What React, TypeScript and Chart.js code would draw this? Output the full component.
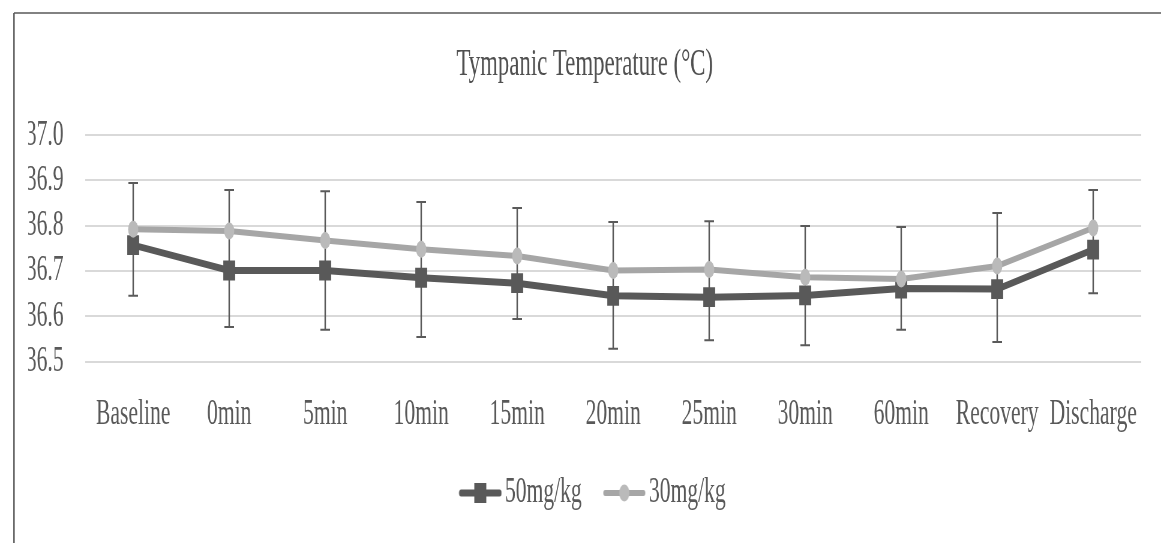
import { useEffect, useRef } from 'react';
import { Chart, registerables } from 'chart.js';

Chart.register(...registerables);

const categories = ['Baseline', '0min', '5min', '10min', '15min', '20min', '25min', '30min', '60min', 'Recovery', 'Discharge'];
const dose50 = [36.757, 36.701, 36.701, 36.685, 36.673, 36.645, 36.642, 36.646, 36.661, 36.66, 36.747];
const dose30 = [36.792, 36.788, 36.767, 36.748, 36.733, 36.701, 36.703, 36.686, 36.682, 36.711, 36.795];
const errHigh = [36.894, 36.879, 36.876, 36.852, 36.839, 36.808, 36.81, 36.799, 36.797, 36.828, 36.879];
const errLow = [36.645, 36.576, 36.57, 36.554, 36.594, 36.528, 36.547, 36.536, 36.57, 36.543, 36.651];
const yTickValues = [36.5, 36.6, 36.7, 36.8, 36.9, 37.0];
const seriesLabels = ['50mg/kg', '30mg/kg'];
const titleText = 'Tympanic Temperature (°C)';

const SX = 0.6;
const CW = Math.round(1161 / SX);
const CH = 543;
const FONT = '"Liberation Serif", "Times New Roman", serif';
const TEXT = '#595959';
const DARK = '#595959';
const LIGHT_LINE = '#a6a6a6';
const LIGHT_PT = '#bababa';

function makeLegendImg(dark: boolean) {
  const c = document.createElement('canvas');
  c.width = 110;
  c.height = 24;
  const g = c.getContext('2d')!;
  const x0 = 38, x1 = 110, cy = 12, cx = 74;
  g.strokeStyle = dark ? DARK : LIGHT_LINE;
  g.lineWidth = dark ? 7 : 6;
  g.lineCap = 'round';
  g.beginPath();
  g.moveTo(x0 + 4, cy);
  g.lineTo(x1 - 4, cy);
  g.stroke();
  if (dark) {
    g.fillStyle = DARK;
    g.fillRect(cx - 10, cy - 10, 20, 20);
  } else {
    g.fillStyle = LIGHT_PT;
    g.beginPath();
    g.arc(cx, cy, 8.5, 0, Math.PI * 2);
    g.fill();
  }
  return c;
}

const borderPlugin = {
  id: 'frameBorder',
  beforeDraw(chart: any) {
    const ctx = chart.ctx;
    ctx.save();
    ctx.strokeStyle = '#595959';
    ctx.lineWidth = 1.5;
    ctx.beginPath();
    ctx.moveTo(23, 13);
    ctx.lineTo(CW, 13);
    ctx.stroke();
    ctx.lineWidth = 2.5;
    ctx.beginPath();
    ctx.moveTo(23.3, 13);
    ctx.lineTo(23.3, CH);
    ctx.stroke();
    ctx.restore();
  },
};

const errorBarPlugin = {
  id: 'errorBars',
  beforeDatasetsDraw(chart: any) {
    const { ctx } = chart;
    const x = chart.scales.x;
    const y = chart.scales.y;
    ctx.save();
    ctx.strokeStyle = '#5a5a5a';
    categories.forEach((_, i) => {
      const px = x.getPixelForValue(i);
      const top = y.getPixelForValue(errHigh[i]);
      const bot = y.getPixelForValue(errLow[i]);
      ctx.lineWidth = 2.5;
      ctx.beginPath();
      ctx.moveTo(px, top);
      ctx.lineTo(px, bot);
      ctx.stroke();
      ctx.lineWidth = 2;
      ctx.beginPath();
      ctx.moveTo(px - 8, top);
      ctx.lineTo(px + 8, top);
      ctx.moveTo(px - 8, bot);
      ctx.lineTo(px + 8, bot);
      ctx.stroke();
    });
    ctx.restore();
  },
};

export default function App() {
  const ref = useRef<HTMLCanvasElement | null>(null);

  useEffect(() => {
    if (!ref.current) return;
    const imgs = [makeLegendImg(true), makeLegendImg(false)];
    const chart = new Chart(ref.current, {
      type: 'line',
      data: {
        labels: categories,
        datasets: [
          {
            label: seriesLabels[0],
            data: dose50,
            borderColor: DARK,
            backgroundColor: DARK,
            borderWidth: 7,
            borderJoinStyle: 'round',
            borderCapStyle: 'round',
            pointStyle: 'rect',
            pointRadius: 14,
            pointBorderWidth: 0,
            pointBackgroundColor: DARK,
            pointBorderColor: DARK,
            order: 1,
          },
          {
            label: seriesLabels[1],
            data: dose30,
            borderColor: LIGHT_LINE,
            backgroundColor: LIGHT_PT,
            borderWidth: 6,
            borderJoinStyle: 'round',
            borderCapStyle: 'round',
            pointStyle: 'circle',
            pointRadius: 8.5,
            pointBorderWidth: 0,
            pointBackgroundColor: LIGHT_PT,
            pointBorderColor: LIGHT_PT,
            order: 0,
          },
        ],
      },
      options: {
        responsive: false,
        animation: false,
        devicePixelRatio: 1,
        events: [],
        layout: { padding: { left: 47, right: 33, top: 0, bottom: 22 } },
        plugins: {
          tooltip: { enabled: false },
          title: {
            display: true,
            text: titleText,
            color: '#505050',
            font: { family: FONT, size: 38, weight: 'normal', lineHeight: 1.2 },
            padding: { top: 42.5, bottom: 47 },
          },
          legend: {
            display: true,
            position: 'bottom',
            labels: {
              usePointStyle: true,
              pointStyleWidth: 84,
              padding: 10,
              color: TEXT,
              font: { family: FONT, size: 36 },
              generateLabels(ch: any) {
                const items = (Chart as any).defaults.plugins.legend.labels.generateLabels(ch);
                items.sort((a: any, b: any) => a.datasetIndex - b.datasetIndex);
                items.forEach((it: any) => {
                  it.pointStyle = imgs[it.datasetIndex];
                  it.fontColor = TEXT;
                });
                return items;
              },
            },
          },
        },
        scales: {
          x: {
            offset: true,
            grid: { display: false, drawTicks: false, offset: true },
            border: { display: false },
            ticks: {
              color: TEXT,
              font: { family: FONT, size: 36 },
              padding: 31,
              maxRotation: 0,
              autoSkip: false,
            },
            afterFit(scale: any) {
              scale.height = 103.5;
            },
          },
          y: {
            min: yTickValues[0],
            max: yTickValues[yTickValues.length - 1],
            grid: { color: '#d9d9d9', lineWidth: 2, drawTicks: false },
            border: { display: false },
            afterBuildTicks(scale: any) {
              scale.ticks = yTickValues.map((v) => ({ value: v }));
            },
            ticks: {
              autoSkip: false,
              color: TEXT,
              font: { family: FONT, size: 36 },
              padding: 36,
              callback: (v: any) => Number(v).toFixed(1),
            },
            afterFit(scale: any) {
              scale.width = 95;
            },
          },
        },
      },
      plugins: [borderPlugin, errorBarPlugin],
    } as any);
    return () => chart.destroy();
  }, []);

  return (
    <div style={{ position: 'absolute', left: 0, top: 0, width: 1161, height: 543, overflow: 'hidden', background: '#fff' }}>
      <canvas
        ref={ref}
        width={CW}
        height={CH}
        style={{ display: 'block', width: '1161px', height: '543px' }}
      />
    </div>
  );
}
